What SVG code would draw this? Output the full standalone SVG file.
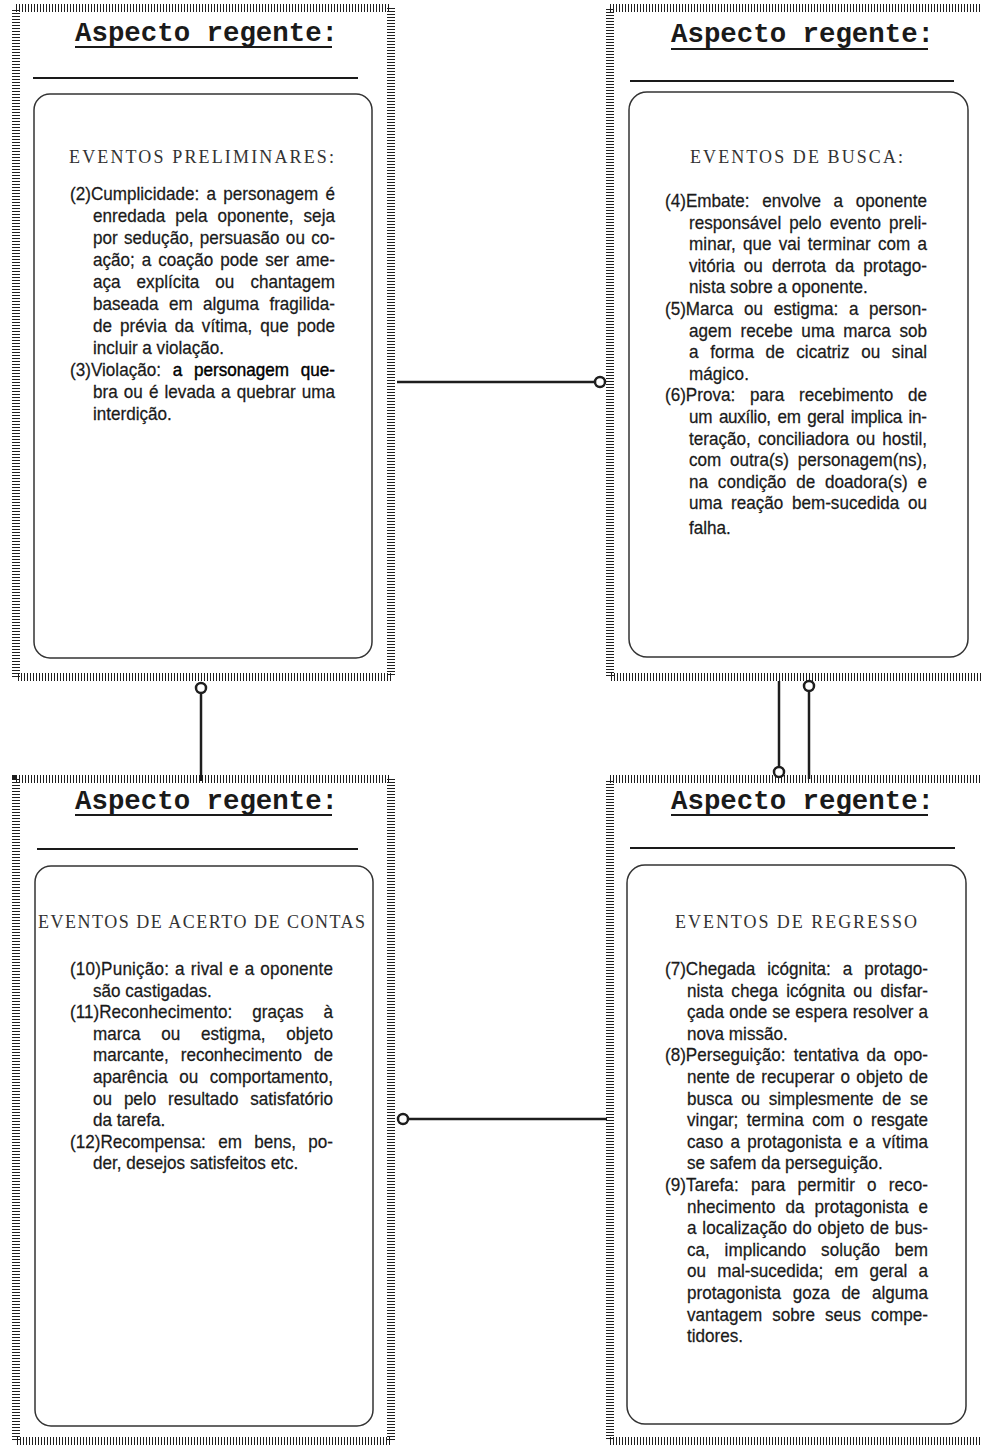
<svg xmlns="http://www.w3.org/2000/svg" width="981" height="1445" viewBox="0 0 981 1445">
<style>
.bg{fill:#fff}
.frame{fill:none;stroke:#1e1e1e;stroke-width:8;stroke-dasharray:1 2}
.box{fill:#fff;stroke:#333;stroke-width:1.5}
.rule{stroke:#1a1a1a;stroke-width:2.2}
.uline{stroke:#1a1a1a;stroke-width:2}
.title{font-family:"Liberation Mono","Courier New",monospace;font-weight:bold;font-size:28px;fill:#1a1a1a}
.head{font-family:"Liberation Serif","Times New Roman",serif;font-size:18px;fill:#333}
.body{font-family:"Liberation Sans",Arial,Helvetica,sans-serif;font-size:18px;fill:#1a1a1a;stroke:#1a1a1a;stroke-width:0.25}
.conn{stroke:#1e1e1e;stroke-width:2.5;fill:none}
.dot{fill:#fff;stroke:#1e1e1e;stroke-width:2.5}
</style>
<rect class="bg" x="0" y="0" width="981" height="1445"/>

<g id="panel-preliminares">
<rect class="frame" x="16" y="8" width="375" height="669"/>
<text class="title" x="75" y="41" textLength="263" lengthAdjust="spacingAndGlyphs">Aspecto regente:</text>
<line class="uline" x1="75" y1="47" x2="332" y2="47"/>
<line class="rule" x1="33" y1="78" x2="358" y2="78"/>
<rect class="box" x="34" y="94" width="338" height="564" rx="16"/>
<text class="head" x="69" y="163" textLength="265" lengthAdjust="spacing">EVENTOS PRELIMINARES:</text>
<g class="body" transform="translate(70 0) scale(0.95 1)">
<text x="0" y="200" word-spacing="2.6" textLength="278.9" lengthAdjust="spacing">(2)Cumplicidade: a personagem é</text>
<text x="24.2" y="222" word-spacing="5.5" textLength="254.7" lengthAdjust="spacing">enredada pela oponente, seja</text>
<text x="24.2" y="244" word-spacing="1.65" textLength="254.7" lengthAdjust="spacing">por sedução, persuasão ou co-</text>
<text x="24.2" y="266" word-spacing="2.3" textLength="254.7" lengthAdjust="spacing">ação; a coação pode ser ame-</text>
<text x="24.2" y="288" word-spacing="11.9" textLength="254.7" lengthAdjust="spacing">aça explícita ou chantagem</text>
<text x="24.2" y="310" word-spacing="5.9" textLength="254.7" lengthAdjust="spacing">baseada em alguma fragilida-</text>
<text x="24.2" y="332" word-spacing="3.5" textLength="254.7" lengthAdjust="spacing">de prévia da vítima, que pode</text>
<text x="24.2" y="354">incluir a violação.</text>
<text x="0" y="376" word-spacing="7.3" textLength="278.9" lengthAdjust="spacing">(3)Violação: <tspan fill="#000" stroke="#000" stroke-width="0.4">a personagem que-</tspan></text>
<text x="24.2" y="398" word-spacing="1.43" textLength="254.7" lengthAdjust="spacing">bra ou é levada a quebrar uma</text>
<text x="24.2" y="420">interdição.</text>
</g>
</g>

<g id="panel-busca">
<rect class="frame" x="610" y="8" width="400" height="669"/>
<text class="title" x="671" y="42" textLength="263" lengthAdjust="spacingAndGlyphs">Aspecto regente:</text>
<line class="uline" x1="671" y1="49" x2="928" y2="49"/>
<line class="rule" x1="630" y1="81" x2="954" y2="81"/>
<rect class="box" x="629" y="92" width="339" height="565" rx="18"/>
<text class="head" x="690" y="163" textLength="213" lengthAdjust="spacing">EVENTOS DE BUSCA:</text>
<g class="body" transform="translate(665 0) scale(0.95 1)">
<text x="0" y="207" word-spacing="8.2" textLength="275.8" lengthAdjust="spacing">(4)Embate: envolve a oponente</text>
<text x="25.3" y="228.6" word-spacing="3.5" textLength="250.5" lengthAdjust="spacing">responsável pelo evento preli-</text>
<text x="25.3" y="250.2" word-spacing="2.5" textLength="250.5" lengthAdjust="spacing">minar, que vai terminar com a</text>
<text x="25.3" y="271.8" word-spacing="4.6" textLength="250.5" lengthAdjust="spacing">vitória ou derrota da protago-</text>
<text x="25.3" y="293.4">nista sobre a oponente.</text>
<text x="0" y="315" word-spacing="6.2" textLength="275.8" lengthAdjust="spacing">(5)Marca ou estigma: a person-</text>
<text x="25.3" y="336.6" word-spacing="4.1" textLength="250.5" lengthAdjust="spacing">agem recebe uma marca sob</text>
<text x="25.3" y="358.2" word-spacing="7.3" textLength="250.5" lengthAdjust="spacing">a forma de cicatriz ou sinal</text>
<text x="25.3" y="379.8">mágico.</text>
<text x="0" y="401.4" word-spacing="10.6" textLength="275.8" lengthAdjust="spacing">(6)Prova: para recebimento de</text>
<text x="25.3" y="423" word-spacing="2.3" textLength="250.5" lengthAdjust="spacing">um auxílio, em geral implica in-</text>
<text x="25.3" y="444.6" word-spacing="2.5" textLength="250.5" lengthAdjust="spacing">teração, conciliadora ou hostil,</text>
<text x="25.3" y="466.2" word-spacing="4.2" textLength="250.5" lengthAdjust="spacing">com outra(s) personagem(ns),</text>
<text x="25.3" y="487.8" word-spacing="5.35" textLength="250.5" lengthAdjust="spacing">na condição de doadora(s) e</text>
<text x="25.3" y="509.4" word-spacing="4.1" textLength="250.5" lengthAdjust="spacing">uma reação bem-sucedida ou</text>
<text x="25.3" y="534">falha.</text>
</g>
</g>

<g id="panel-acerto">
<rect class="frame" x="16" y="779" width="375" height="662"/>
<text class="title" x="75" y="809" textLength="263" lengthAdjust="spacingAndGlyphs">Aspecto regente:</text>
<line class="uline" x1="75" y1="815" x2="332" y2="815"/>
<line class="rule" x1="37" y1="849" x2="358" y2="849"/>
<rect class="box" x="35" y="866" width="338" height="560" rx="16"/>
<text class="head" x="38" y="928" textLength="327" lengthAdjust="spacing">EVENTOS DE ACERTO DE CONTAS</text>
<g class="body" transform="translate(70 0) scale(0.95 1)">
<text x="0" y="975" word-spacing="1.1" textLength="276.8" lengthAdjust="spacing">(10)Punição: a rival e a oponente</text>
<text x="24.2" y="996.6">são castigadas.</text>
<text x="0" y="1018.2" word-spacing="15.9" textLength="276.8" lengthAdjust="spacing">(11)Reconhecimento: graças à</text>
<text x="24.2" y="1039.8" word-spacing="16.8" textLength="252.6" lengthAdjust="spacing">marca ou estigma, objeto</text>
<text x="24.2" y="1061.4" word-spacing="7.7" textLength="252.6" lengthAdjust="spacing">marcante, reconhecimento de</text>
<text x="24.2" y="1083" word-spacing="7.2" textLength="252.6" lengthAdjust="spacing">aparência ou comportamento,</text>
<text x="24.2" y="1104.6" word-spacing="7.5" textLength="252.6" lengthAdjust="spacing">ou pelo resultado satisfatório</text>
<text x="24.2" y="1126.2">da tarefa.</text>
<text x="0" y="1147.8" word-spacing="7.9" textLength="276.8" lengthAdjust="spacing">(12)Recompensa: em bens, po-</text>
<text x="24.2" y="1169.4">der, desejos satisfeitos etc.</text>
</g>
</g>

<g id="panel-regresso">
<rect class="frame" x="610" y="779" width="400" height="662"/>
<text class="title" x="671" y="809" textLength="263" lengthAdjust="spacingAndGlyphs">Aspecto regente:</text>
<line class="uline" x1="671" y1="815" x2="928" y2="815"/>
<line class="rule" x1="630" y1="848" x2="955" y2="848"/>
<rect class="box" x="627" y="865" width="339" height="559" rx="18"/>
<text class="head" x="675" y="928" textLength="242" lengthAdjust="spacing">EVENTOS DE REGRESSO</text>
<g class="body" transform="translate(665 0) scale(0.95 1)">
<text x="0" y="975" word-spacing="7.6" textLength="276.8" lengthAdjust="spacing">(7)Chegada icógnita: a protago-</text>
<text x="23.2" y="996.6" word-spacing="3.65" textLength="253.7" lengthAdjust="spacing">nista chega icógnita ou disfar-</text>
<text x="23.2" y="1018.2" word-spacing="0.3" textLength="253.7" lengthAdjust="spacing">çada onde se espera resolver a</text>
<text x="23.2" y="1039.8">nova missão.</text>
<text x="0" y="1061.4" word-spacing="3.6" textLength="276.8" lengthAdjust="spacing">(8)Perseguição: tentativa da opo-</text>
<text x="23.2" y="1083" word-spacing="1.5" textLength="253.7" lengthAdjust="spacing">nente de recuperar o objeto de</text>
<text x="23.2" y="1104.6" word-spacing="4.35" textLength="253.7" lengthAdjust="spacing">busca ou simplesmente de se</text>
<text x="23.2" y="1126.2" word-spacing="3.9" textLength="253.7" lengthAdjust="spacing">vingar; termina com o resgate</text>
<text x="23.2" y="1147.8" word-spacing="2.7" textLength="253.7" lengthAdjust="spacing">caso a protagonista e a vítima</text>
<text x="23.2" y="1169.4">se safem da perseguição.</text>
<text x="0" y="1191" word-spacing="7.7" textLength="276.8" lengthAdjust="spacing">(9)Tarefa: para permitir o reco-</text>
<text x="23.2" y="1212.6" word-spacing="5.5" textLength="253.7" lengthAdjust="spacing">nhecimento da protagonista e</text>
<text x="23.2" y="1234.2" word-spacing="1.1" textLength="253.7" lengthAdjust="spacing">a localização do objeto de bus-</text>
<text x="23.2" y="1255.8" word-spacing="10.5" textLength="253.7" lengthAdjust="spacing">ca, implicando solução bem</text>
<text x="23.2" y="1277.4" word-spacing="6.9" textLength="253.7" lengthAdjust="spacing">ou mal-sucedida; em geral a</text>
<text x="23.2" y="1299" word-spacing="7.2" textLength="253.7" lengthAdjust="spacing">protagonista goza de alguma</text>
<text x="23.2" y="1320.6" word-spacing="5.5" textLength="253.7" lengthAdjust="spacing">vantagem sobre seus compe-</text>
<text x="23.2" y="1342.2">tidores.</text>
</g>
</g>

<g id="connectors">
<line class="conn" x1="397" y1="382" x2="595" y2="382"/>
<circle class="dot" cx="600" cy="382" r="5"/>
<line class="conn" x1="201" y1="693" x2="201" y2="781"/>
<circle class="dot" cx="201" cy="688" r="5"/>
<line class="conn" x1="779" y1="681" x2="779" y2="767"/>
<circle class="dot" cx="779" cy="772" r="5"/>
<line class="conn" x1="809" y1="691" x2="809" y2="779"/>
<circle class="dot" cx="809" cy="686" r="5"/>
<line class="conn" x1="408" y1="1119" x2="607" y2="1119"/>
<circle class="dot" cx="403" cy="1119" r="5"/>
</g>
</svg>
